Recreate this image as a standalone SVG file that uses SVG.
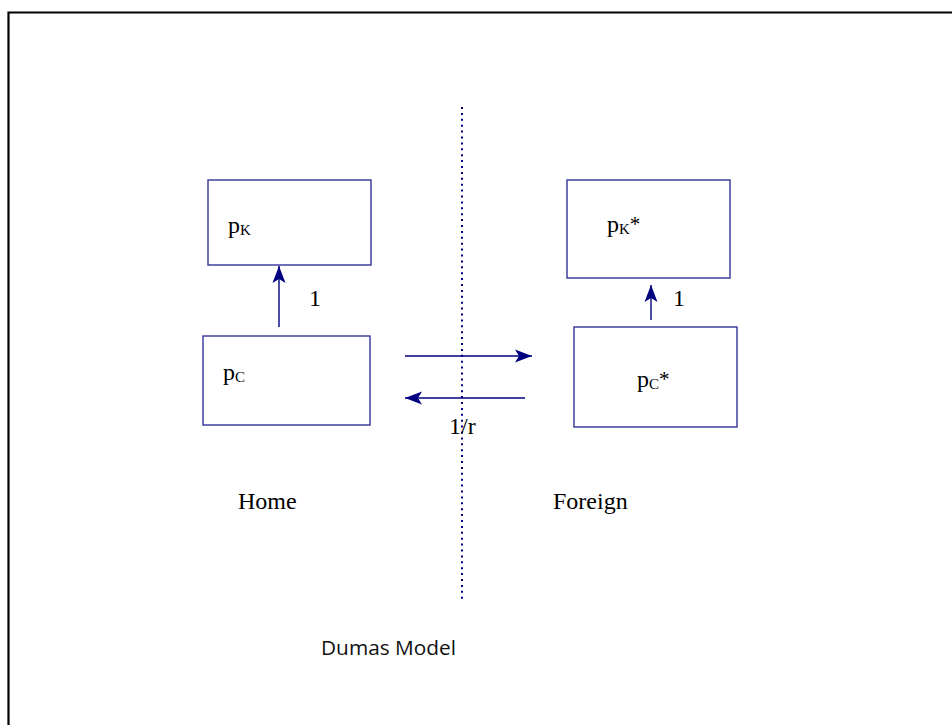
<svg xmlns="http://www.w3.org/2000/svg" width="952" height="725" viewBox="0 0 952 725">
  <style>
    .box { fill: #ffffff; stroke: #333399; stroke-width: 1.4; }
    .lbl { font-family: "Liberation Serif", "Times New Roman", serif; font-size: 24px; fill: #000000; }
    .sub { font-size: 15px; }
    .star { font-size: 21px; }
    .flow { stroke: #000080; stroke-width: 1.4; fill: none; marker-end: url(#head); }
    .caption { font-family: "Open Sans", "Liberation Sans", sans-serif; font-size: 19.5px; fill: #111111; }
  </style>
  <defs>
    <marker id="head" markerUnits="userSpaceOnUse" markerWidth="18" markerHeight="14" refX="17" refY="7" orient="auto">
      <path d="M0,0.5 L17,7 L0,13.5 L4,7 Z" fill="#000080"/>
    </marker>
  </defs>

  <rect width="952" height="725" fill="#ffffff"/>
  <!-- slide frame -->
  <path d="M8.5,735 L8.5,12.5 L960,12.5" fill="none" stroke="#000000" stroke-width="2.2"/>

  <!-- border between the two countries -->
  <line x1="462" y1="107" x2="462" y2="599" stroke="#000080" stroke-width="2" stroke-dasharray="2,3.9"/>

  <g id="home-capital">
    <rect class="box" x="208" y="180" width="163" height="85"/>
    <text class="lbl" x="228" y="233">p<tspan class="sub" dy="2">K</tspan></text>
  </g>

  <g id="foreign-capital">
    <rect class="box" x="567" y="180" width="163" height="98"/>
    <text class="lbl" x="607" y="232">p<tspan class="sub" dy="2">K</tspan><tspan class="star" dy="-3">*</tspan></text>
  </g>

  <g id="home-consumption">
    <rect class="box" x="203" y="336" width="167" height="89"/>
    <text class="lbl" x="223" y="380">p<tspan class="sub" dy="2">C</tspan></text>
  </g>

  <g id="foreign-consumption">
    <rect class="box" x="574" y="327" width="163" height="100"/>
    <text class="lbl" x="637" y="387">p<tspan class="sub" dy="2">C</tspan><tspan class="star" dy="-3">*</tspan></text>
  </g>

  <g id="connectors">
    <line class="flow" x1="279" y1="327" x2="279" y2="266"/>
    <line class="flow" x1="651" y1="320" x2="651" y2="285"/>
    <line class="flow" x1="405" y1="356" x2="532" y2="356"/>
    <line class="flow" x1="525" y1="398" x2="405" y2="398"/>
  </g>

  <g id="labels">
    <text class="lbl" x="309" y="306">1</text>
    <text class="lbl" x="673" y="306">1</text>
    <text class="lbl" x="449" y="434">1/r</text>
    <text class="lbl" x="238" y="509">Home</text>
    <text class="lbl" x="553" y="509">Foreign</text>
    <text class="caption" x="321" y="655" textLength="135" lengthAdjust="spacingAndGlyphs">Dumas Model</text>
  </g>
</svg>
